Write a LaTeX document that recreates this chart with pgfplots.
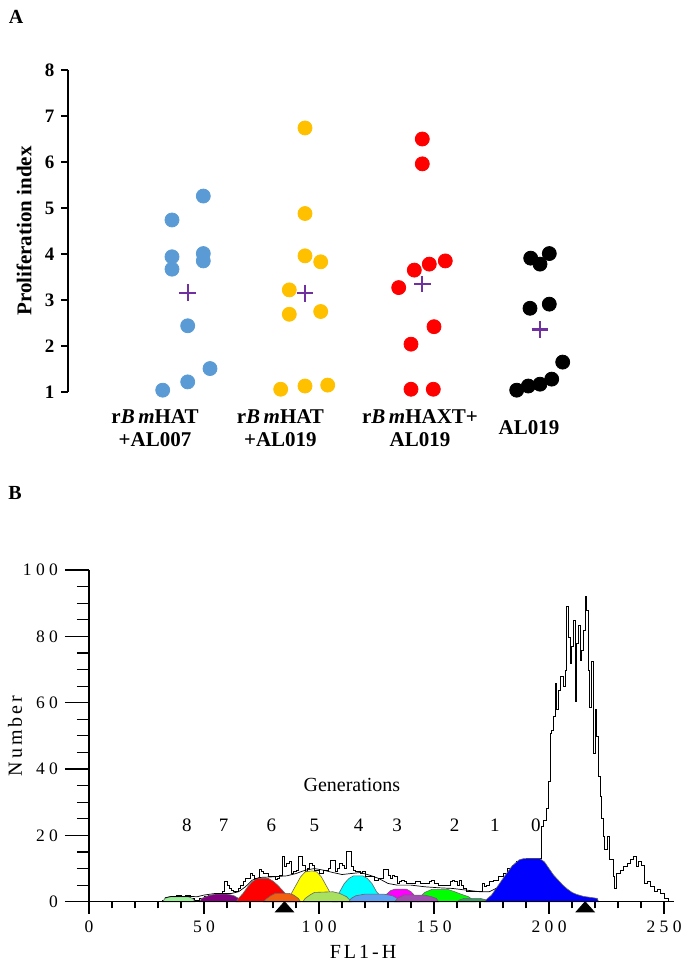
\documentclass[border=0pt]{standalone}
\usepackage{fontspec}
\setmainfont{Liberation Serif}
\newfontfamily\spacednum[LetterSpace=25]{Liberation Serif}
\newfontfamily\spacedlab[LetterSpace=15]{Liberation Serif}
\usepackage{pgfplots}
\pgfplotsset{compat=1.18}

\definecolor{DotBlue}{HTML}{5B9BD5}
\definecolor{DotYellow}{HTML}{FFC000}
\definecolor{DotRed}{HTML}{FF0000}
\definecolor{MeanPurple}{HTML}{7030A0}
\definecolor{GenEight}{HTML}{98F098}
\definecolor{GenSeven}{HTML}{800080}
\definecolor{GenSix}{HTML}{FF0000}
\definecolor{GenOrange}{HTML}{F06010}
\definecolor{GenFive}{HTML}{FFFF00}
\definecolor{GenYG}{HTML}{A8E060}
\definecolor{GenFour}{HTML}{00FFFF}
\definecolor{GenCorn}{HTML}{60A0F0}
\definecolor{GenThree}{HTML}{FF00FF}
\definecolor{GenOrchid}{HTML}{A050B0}
\definecolor{GenTwo}{HTML}{00FF00}
\definecolor{GenSea}{HTML}{30A060}
\definecolor{GenZero}{HTML}{0000FF}

\begin{document}
\begin{tikzpicture}
\useasboundingbox (0pt,0pt) rectangle (344.5pt,-483pt);

% ---------------- panel A ----------------
\node[font=\bfseries\fontsize{10}{12}\selectfont] at (8pt,-8.3pt) {A};
\begin{axis}[
  at={(34pt,-196pt)}, anchor=south west,
  scale only axis, width=266pt, height=161pt,
  xmin=68, xmax=600, ymin=1, ymax=8,
  axis y line=left, axis x line=none,
  axis line style={-, line width=0.6pt},
  ytick={1,...,8}, tick align=outside, major tick length=3.3pt,
  tick style={black, line width=0.6pt},
  /pgf/number format/assume math mode=true,
  yticklabel style={font=\bfseries\fontsize{9.5}{11}\selectfont},
  clip=false,
]
\addplot[only marks, mark=*, mark size=3.5pt, DotBlue] coordinates {
(162.7,1.04) (172,4.74) (172,3.94) (172,3.67) (187.7,2.44) (187.7,1.22)
(203.3,5.26) (203.3,4.01) (203.3,3.85) (210,1.51)};
\addplot[only marks, mark=*, mark size=3.5pt, DotYellow] coordinates {
(305,6.74) (305,4.88) (305,3.96) (320.7,3.83) (289.3,3.22) (289.3,2.69)
(320.7,2.75) (280.7,1.06) (305,1.13) (327.7,1.15)};
\addplot[only marks, mark=*, mark size=3.5pt, DotRed] coordinates {
(422.3,6.50) (422.3,5.96) (414.3,3.65) (429.3,3.78) (445.3,3.85) (398.7,3.27)
(434,2.42) (411,2.04) (411,1.06) (433.3,1.06)};
\addplot[only marks, mark=*, mark size=3.5pt, black] coordinates {
(530.7,3.91) (540,3.78) (549.3,4.01) (530,2.82) (549.3,2.91) (562.7,1.65)
(516.7,1.04) (528.3,1.13) (540,1.17) (551.7,1.28)};
% group means
\addplot[only marks, mark=+, mark size=4.2pt, MeanPurple, line width=1.1pt] coordinates {
(187.7,3.16) (305,3.15) (422.3,3.35) (540,2.36)};
\end{axis}
\node[rotate=90, font=\bfseries\fontsize{10.5}{12}\selectfont] at (12pt,-115.5pt) {Proliferation index};
\begin{scope}[every node/.style={align=center, font=\bfseries\fontsize{10.5}{11.5}\selectfont}]
\node at (77.5pt,-214pt)  {r\textit{B\,m}HAT\\+AL007};
\node at (140.2pt,-214pt) {r\textit{B\,m}HAT\\+AL019};
\node at (210pt,-214pt)   {r\textit{B\,m}HAXT+\\AL019};
\node at (264.5pt,-214pt) {AL019};
\end{scope}

% ---------------- panel B ----------------
\node[font=\bfseries\fontsize{10}{12}\selectfont] at (7.5pt,-246.5pt) {B};
\begin{axis}[
  at={(44.5pt,-450.85pt)}, anchor=south west,
  scale only axis, width=292.7pt, height=165.85pt,
  xmin=0, xmax=254.5, ymin=0, ymax=100,
  axis x line=bottom, axis y line=left,
  axis line style={-, line width=0.6pt},
  xtick=\empty,
  ytick={0,20,...,100}, minor ytick={5,10,...,95},
  tick align=outside, major tick length=12pt, minor tick length=6pt,
  tick style={black, line width=0.6pt},
  /pgf/number format/assume math mode=true,
  yticklabel style={font=\spacednum\fontsize{8.75}{10}\selectfont},
  clip=false,
]
% measured histogram
\addplot[const plot, black, line width=0.5pt] coordinates {
(0,0.2) (32,0.5) (34,1) (36,1.2) (38,2) (40,1.5) (42,2) (44,1) (46,0.5) (48,1)
(50,1.5) (52,2) (56,2.5) (58,3) (59,6) (60,5) (61,4) (62,3.5) (63,3) (65,4)
(66,5) (67,6) (68,7) (70,8.5) (71,8) (72,7) (74,9.7) (75,9) (76,8.5) (78,7.5)
(81,6.7) (82,7) (83,8) (84,13.5) (85,10.5) (86,11.5) (87,12) (88,8.5) (89,9)
(90,9.5) (91,13.7) (93,11) (94,9) (95,10) (96,11.5) (97,11) (98,9.5) (100,8.5)
(102,9.5) (104,10) (105,12.5) (107,9) (108,10) (109,11.5) (110,11) (111,10)
(112,15) (114,10.5) (115,9.5) (116,9) (118,8.5) (119,9) (120,7.5) (124,6.5)
(126,7) (128,9.7) (130,8) (131,7) (132,8) (133,7.5) (134,5.5) (135,6) (136,6.5)
(137,6) (138,5.5) (142,6) (144,5.5) (148,6) (149,6.5) (150,5.5) (152,5)
(157,6) (158,6.5) (159,6) (160,5) (161,6.5) (162,5) (163,4) (164,3) (171,5.5)
(172,4.5) (173,5) (174,6) (176,6.5) (178,7.5) (180,8.5) (182,10) (184,11)
(186,12) (188,12.8) (190,13) (196.8,22.6) (197.6,24.6) (199,28.2) (199.7,36.1)
(200.5,50.8) (201.2,51.7) (201.9,55.7) (202.6,65.8) (203.3,57.8) (204,63.8)
(204.8,67.8) (206.3,64.8) (207,69.8) (207.7,88.9) (208.4,79.8) (209.2,71.8)
(209.9,76.8) (210.6,84.9) (211.3,60.3) (212,77.8) (212.8,83.4) (213.5,72.8)
(214.2,75.8) (214.9,81.8) (215.7,92) (216.4,87.9) (217.1,69.8) (217.8,58.7)
(218.6,72.3) (219.3,44.8) (220,57.8) (220.7,49.7) (221.4,37.6) (222.2,31.6)
(222.9,25) (223.6,19.6) (224.3,15.6) (225.4,19.6) (226.5,12.6) (227.9,7.5)
(228.6,4) (229.4,8.6) (231,9.5) (232.3,10.5) (234,11.5) (235.2,12.6)
(236.7,13.6) (238.1,10.5) (239,12) (240.3,11) (241.7,5.6) (243,6) (243.9,4.6)
(246,3) (247,3.8) (248.3,2.5) (250.4,1) (251.9,0) (253,0)};
% fitted generations
\addplot[fill=GenEight, draw=black!60, line width=0.3pt] coordinates {
(32,0) (33,1) (35,1.5) (43,1.5) (45,1) (46,0)} \closedcycle;
\addplot[fill=GenSeven, draw=black!60, line width=0.3pt] coordinates {
(48,0) (49,1) (52,1.8) (55,2.3) (60,2.3) (63,1.8) (65,1) (66,0)} \closedcycle;
\addplot[fill=GenSix, draw=black!60, line width=0.3pt] coordinates {
(64,0) (65,1) (67,2.5) (69,4.5) (71,6) (73,7) (78,7) (80,6.2) (82,5) (84,3.5)
(86,2) (88,0.8) (89,0)} \closedcycle;
\addplot[fill=GenFive, draw=black!60, line width=0.3pt] coordinates {
(86,0) (87,1) (88,2.5) (90,5) (92,7.5) (94,9) (97,9.3) (99,9) (101,7.5) (103,5)
(105,2.5) (107,1) (108,0)} \closedcycle;
\addplot[fill=GenFour, draw=black!60, line width=0.3pt] coordinates {
(106,0) (107,1) (109,3) (111,5.5) (113,7) (115,7.8) (119,7.8) (121,7) (123,5.5)
(125,3) (127,1.5) (128,0)} \closedcycle;
\addplot[fill=GenThree, draw=black!60, line width=0.3pt] coordinates {
(128,0) (129,2) (131,3.3) (133,3.8) (138,3.8) (140,3) (142,1.5) (143,0)} \closedcycle;
\addplot[fill=GenTwo, draw=black!60, line width=0.3pt] coordinates {
(143,0) (144,1.5) (146,2.8) (149,3.7) (156,3.7) (159,3) (162,2.2) (165,1.5)
(167,0.5) (168,0)} \closedcycle;
\addplot[fill=GenOrange, draw=black!60, line width=0.3pt] coordinates {
(76,0) (77,0.8) (79,1.8) (81,2.5) (87,2.5) (89,2) (91,1) (92,0)} \closedcycle;
\addplot[fill=GenYG, draw=black!60, line width=0.3pt] coordinates {
(93,0) (94,1) (96,2) (98,2.8) (106,3) (109,2.5) (112,1.5) (114,0)} \closedcycle;
\addplot[fill=GenCorn, draw=black!60, line width=0.3pt] coordinates {
(113,0) (114,1) (116,1.8) (120,2.3) (128,2.3) (132,1.8) (134,1) (135,0)} \closedcycle;
\addplot[fill=GenOrchid, draw=black!60, line width=0.3pt] coordinates {
(133,0) (134,1) (137,2) (146,2) (149,1.5) (151,1) (152,0)} \closedcycle;
\addplot[fill=GenSea, draw=black!60, line width=0.3pt] coordinates {
(160,0) (161,0.5) (163,1) (170,1) (173,0.5) (174,0)} \closedcycle;
\addplot[fill=GenZero, draw=black!60, line width=0.3pt] coordinates {
(172,0) (173,0.8) (175,2) (178,5) (181,8) (184,10.8) (187,12.6) (189,13)
(196,13) (198,12) (200,10) (202,8) (204,6.5) (206,5) (208,3.8) (210,2.8)
(212,2.2) (215,1.6) (218,1.3) (221,1) (221.5,0)} \closedcycle;
% sum of the fit
\addplot[black, line width=0.35pt] coordinates {
(33,1.2) (36,1.6) (44,1.6) (47,1.5) (50,2) (55,2.5) (62,2.5) (65,3) (68,4.5)
(71,6.5) (74,7.3) (80,7.5) (86,7.8) (90,8.5) (94,9.5) (98,10) (102,9.5)
(106,8.8) (110,8.2) (114,8.5) (118,8.8) (122,8) (126,7) (130,5.5) (134,5)
(140,5) (146,4.5) (152,4.2) (158,4) (164,3.5) (170,3) (174,3) (177,4)};
% generation boundary markers
\addplot[only marks, mark=triangle*, mark size=5.2pt, mark options={yscale=0.65, fill=black}]
coordinates {(85,-2.05) (215.7,-2.05)};
\node[font=\fontsize{10}{12}\selectfont] at (axis cs:114.3,35.2) {Generations};
\begin{scope}[every node/.style={font=\fontsize{9.5}{11}\selectfont}]
\node at (axis cs:42.6,23.1) {8};
\node at (axis cs:58.5,23.1) {7};
\node at (axis cs:79.3,23.1) {6};
\node at (axis cs:98,23.1) {5};
\node at (axis cs:117.2,23.1) {4};
\node at (axis cs:134,23.1) {3};
\node at (axis cs:158.9,23.1) {2};
\node at (axis cs:176.5,23.1) {1};
\node at (axis cs:194.3,23.1) {0};
\end{scope}
\end{axis}
% x ticks of panel B (shorter than the y ticks)
\begin{axis}[
  at={(44.5pt,-450.85pt)}, anchor=south west,
  scale only axis, width=292.7pt, height=165.85pt,
  xmin=0, xmax=254.5, ymin=0, ymax=100,
  axis x line=bottom, axis y line=none,
  axis line style={-, line width=0.6pt},
  xtick={0,50,...,250}, minor xtick={10,20,...,240},
  tick align=outside, major tick length=6pt, minor tick length=3.3pt,
  tick style={black, line width=0.6pt},
  /pgf/number format/assume math mode=true,
  xticklabel style={font=\spacednum\fontsize{8.75}{10}\selectfont},
]
\end{axis}
\node[rotate=90, font=\spacedlab\fontsize{10}{12}\selectfont] at (7.5pt,-367.9pt) {Number};
\node[font=\spacedlab\fontsize{10}{12}\selectfont] at (181.5pt,-475.85pt) {FL1-H};
\end{tikzpicture}
\end{document}
